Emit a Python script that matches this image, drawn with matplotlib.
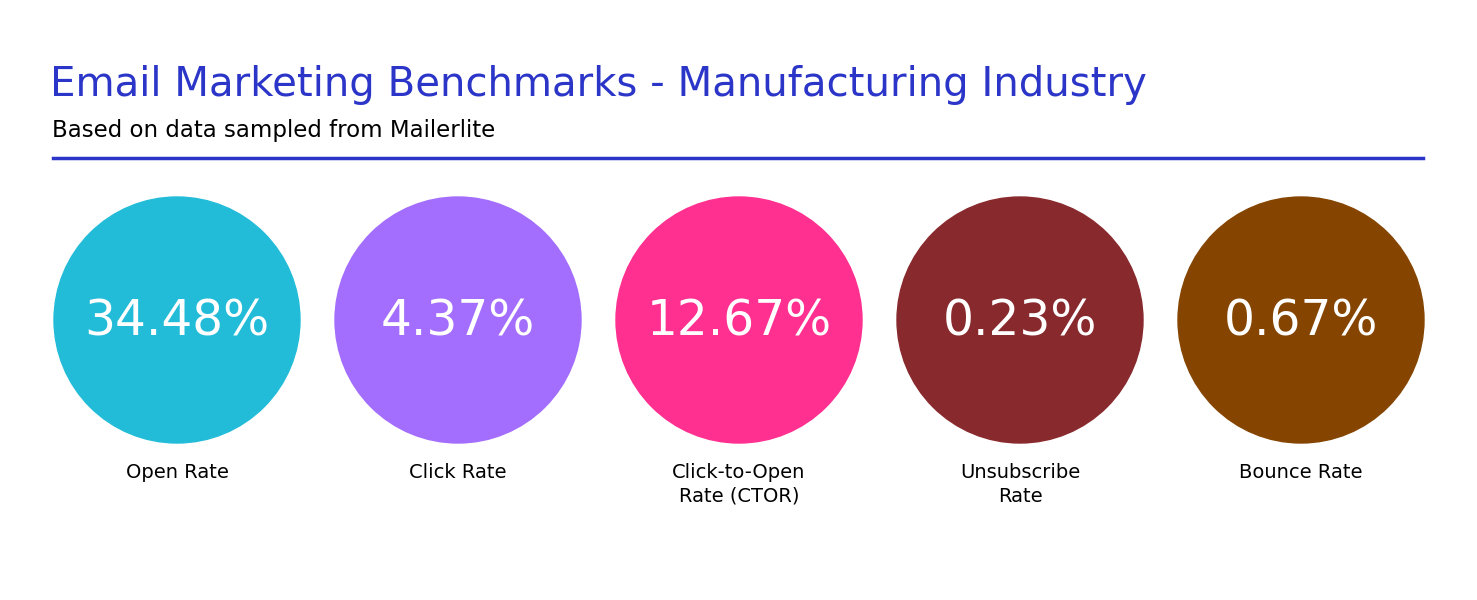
import matplotlib.pyplot as plt
from matplotlib.patches import Circle

# data
labels = ["Open Rate", "Click Rate", "Click-to-Open\nRate (CTOR)", "Unsubscribe\nRate", "Bounce Rate"]
values = [34.48, 4.37, 12.67, 0.23, 0.67]
colors = ["#22bcd9", "#a36dfd", "#ff3090", "#88292d", "#854500"]

fig = plt.figure(figsize=(14.77, 6), dpi=100)
ax = fig.add_axes([0, 0, 1, 1])
ax.set_xlim(0, 1477)
ax.set_ylim(600, 0)
ax.set_aspect("equal")
ax.axis("off")

blue = "#2b35c8"
ax.text(50, 85, "Email Marketing Benchmarks - Manufacturing Industry", fontsize=29,
        color=blue, va="center", ha="left", family="DejaVu Sans")
ax.text(52, 130, "Based on data sampled from Mailerlite", fontsize=16.5,
        color="black", va="center", ha="left", family="DejaVu Sans")
ax.plot([53, 1423], [158, 158], color=blue, lw=2.5)

for i, (lab, v, c) in enumerate(zip(labels, values, colors)):
    cx = 177 + i * 281
    ax.add_patch(Circle((cx, 320), 123, color=c))
    ax.text(cx, 322, f"{v:.2f}%", fontsize=35, color="white", ha="center", va="center",
            family="DejaVu Sans")
    ax.text(cx, 463, lab, fontsize=14, color="black", ha="center", va="top",
            family="DejaVu Sans", linespacing=1.3)

fig.savefig("out.png", dpi=100)
